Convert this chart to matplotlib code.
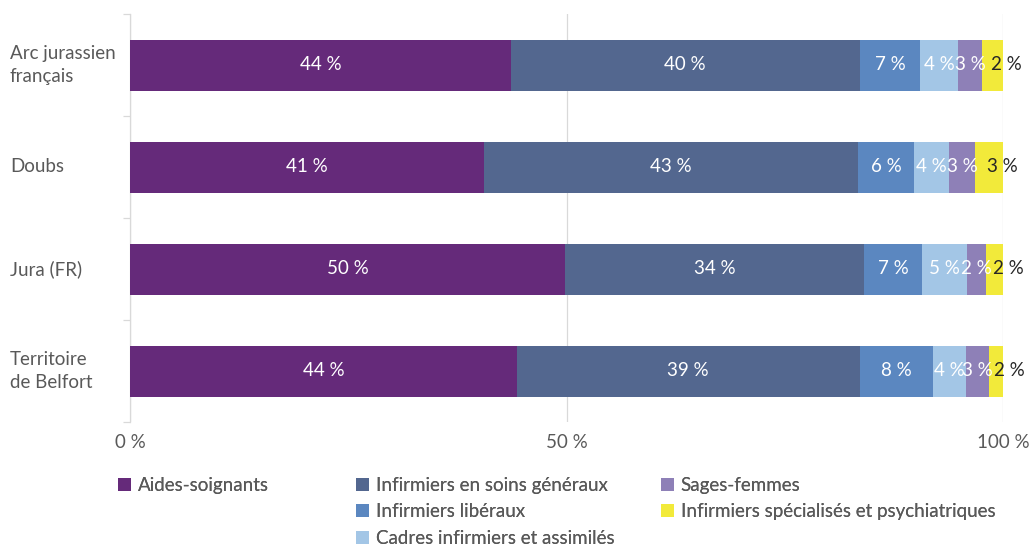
import numpy as np
import matplotlib
matplotlib.use("Agg")
import matplotlib.pyplot as plt
from matplotlib.patches import Patch
from matplotlib.transforms import blended_transform_factory

plt.rcParams['font.family'] = ['Lato', 'DejaVu Sans']

categories = ["Arc jurassien\nfrançais", "Doubs", "Jura (FR)", "Territoire\nde Belfort"]
series = ["Aides-soignants", "Infirmiers en soins généraux", "Infirmiers libéraux",
          "Cadres infirmiers et assimilés", "Sages-femmes",
          "Infirmiers spécialisés et psychiatriques"]
aides = [43.6, 40.6, 49.8, 44.3]
soins_generaux = [40.0, 42.8, 34.3, 39.3]
liberaux = [6.9, 6.4, 6.6, 8.4]
cadres = [4.4, 4.0, 5.2, 3.8]
sages_femmes = [2.7, 3.0, 2.2, 2.6]
specialises = [2.4, 3.2, 1.9, 1.6]
xticks = [0, 50, 100]
xticklabels = ["0 %", "50 %", "100 %"]

colors = ["#652A7A", "#53678F", "#5B87C0", "#A3C6E6", "#8E80B7", "#F2EA3A"]
text_gray = "#595959"
grid_gray = "#D9D9D9"

W, H = 1034, 549
fig = plt.figure(figsize=(W / 100, H / 100), dpi=100)
ax = fig.add_axes([130 / W, 1 - 422 / H, 873 / W, 408 / H])

data = [aides, soins_generaux, liberaux, cadres, sages_femmes, specialises]
y = np.arange(len(categories))
left = np.zeros(len(categories))
for vals, col, name in zip(data, colors, series):
    vals = np.array(vals)
    ax.barh(y, vals, left=left, height=0.5, color=col, label=name, zorder=3)
    for yi, l, v in zip(y, left, vals):
        if col == colors[-1]:
            # last segment is too thin, label hangs out to the right in black
            ax.text(l + v / 2 - 0.2, yi, f"{v:.0f} %", ha="left", va="center",
                    color="#262626", fontsize=13.5, zorder=4)
        else:
            ax.text(l + v / 2, yi, f"{v:.0f} %", ha="center", va="center",
                    color="white", fontsize=13.5, zorder=4)
    left = left + vals

ax.set_xlim(0, 100)
ax.set_ylim(3.5, -0.5)
ax.set_xticks(xticks)
ax.set_xticklabels(xticklabels, color=text_gray, fontsize=13.5)
ax.tick_params(axis="x", length=0, pad=9)
ax.grid(axis="x", color=grid_gray, lw=0.9, zorder=0)

ax.set_yticks([])
ax.set_yticks(np.arange(-0.5, 4.0, 1.0), minor=True)
ax.tick_params(axis="y", which="minor", length=5, color=grid_gray, width=0.9)
trans = blended_transform_factory(fig.transFigure, ax.transData)
for yi, cat in zip(y, categories):
    ax.text(10 / W, yi, cat, transform=trans, ha="left", va="center",
            color=text_gray, fontsize=13.5, linespacing=1.45)

for s in ["top", "right", "bottom"]:
    ax.spines[s].set_visible(False)
ax.spines["left"].set_color(grid_gray)
ax.spines["left"].set_linewidth(0.9)

# legend in three columns, placed like the original
handles = [Patch(facecolor=c) for c in colors]
groups = [([0], 118), ([1, 2, 3], 356), ([4, 5], 661)]
for idx, xpx in groups:
    lg = fig.legend([handles[i] for i in idx], [series[i] for i in idx],
                    loc="upper left", bbox_to_anchor=(xpx / W, 1 - 477 / H),
                    frameon=False, fontsize=13.5, handlelength=0.7, handleheight=0.7,
                    handletextpad=0.35, labelspacing=0.5, borderpad=0, borderaxespad=0)
    for t in lg.get_texts():
        t.set_color(text_gray)
    fig.add_artist(lg)

fig.savefig("out.png", dpi=100)
